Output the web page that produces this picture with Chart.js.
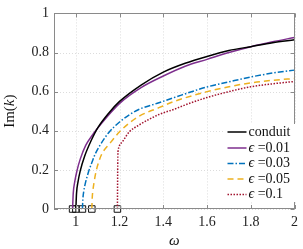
<!DOCTYPE html>
<html>
<head>
<meta charset="utf-8">
<script src="https://cdn.jsdelivr.net/npm/chart.js@4.4.1/dist/chart.umd.min.js"></script>
<style>
  html, body { margin: 0; padding: 0; background: #fff; }
</style>
</head>
<body>
<canvas id="chart" width="303" height="249"></canvas>
<script>
// values
var omegaConduit = [1.0, 1.003, 1.01, 1.02, 1.04, 1.07, 1.1, 1.15, 1.2, 1.3, 1.4, 1.5, 1.6, 1.7, 1.8, 1.9, 2.0];
var imConduit    = [0, 0.08, 0.14, 0.195, 0.27, 0.35, 0.415, 0.49, 0.55, 0.635, 0.70, 0.745, 0.78, 0.81, 0.83, 0.85, 0.865];

var omegaEps01 = [0.985, 0.988, 0.995, 1.005, 1.02, 1.045, 1.08, 1.115, 1.2, 1.3, 1.4, 1.5, 1.6, 1.7, 1.8, 1.9, 2.0];
var imEps01    = [0, 0.08, 0.14, 0.195, 0.255, 0.325, 0.385, 0.435, 0.54, 0.622, 0.68, 0.73, 0.765, 0.80, 0.83, 0.855, 0.877];

var omegaEps03 = [1.03, 1.032, 1.036, 1.042, 1.058, 1.074, 1.088, 1.11, 1.15, 1.2, 1.245, 1.29, 1.38, 1.45, 1.6, 1.7, 1.8, 1.9, 2.0];
var imEps03    = [0, 0.05, 0.09, 0.125, 0.19, 0.24, 0.28, 0.325, 0.39, 0.445, 0.482, 0.51, 0.543, 0.57, 0.624, 0.65, 0.675, 0.695, 0.71];

var omegaEps05 = [1.073, 1.075, 1.078, 1.083, 1.092, 1.103, 1.118, 1.155, 1.2, 1.245, 1.29, 1.38, 1.45, 1.6, 1.7, 1.8, 1.9, 2.0];
var imEps05    = [0, 0.06, 0.095, 0.135, 0.19, 0.235, 0.28, 0.335, 0.395, 0.44, 0.475, 0.518, 0.55, 0.60, 0.625, 0.645, 0.658, 0.667];

var omegaEps1 = [1.19, 1.192, 1.195, 1.215, 1.245, 1.29, 1.38, 1.45, 1.5, 1.6, 1.7, 1.8, 1.9, 2.0];
var imEps1    = [0, 0.27, 0.31, 0.347, 0.395, 0.43, 0.483, 0.51, 0.532, 0.57, 0.60, 0.625, 0.64, 0.652];

// cut-off frequencies marked with squares
var cutoffOmega = [0.985, 1.0, 1.03, 1.073, 1.19];
var cutoffIm    = [0, 0, 0, 0, 0];

var seriesLabels = ['conduit', 'ϵ =0.01', 'ϵ =0.03', 'ϵ =0.05', 'ϵ =0.1'];
var xTicks = [1, 1.2, 1.4, 1.6, 1.8, 2];
var yTicks = [0, 0.2, 0.4, 0.6, 0.8, 1];

var SERIF = "'Liberation Serif', 'DejaVu Serif', serif";
var AXIS_GREY = '#8a8a8a';

function points(xs, ys) {
    return xs.map(function (x, i) { return { x: x, y: ys[i] }; });
}

function curve(label, xs, ys, color, dash) {
    return {
        label: label,
        data: points(xs, ys),
        showLine: true,
        borderColor: color,
        backgroundColor: color,
        borderWidth: 1.5,
        borderDash: dash,
        pointRadius: 0,
        cubicInterpolationMode: 'monotone',
        clip: false
    };
}

// grid, box and inward ticks like the original axes
var axesFrame = {
    id: 'axesFrame',
    beforeDatasetsDraw: function (chart) {
        var ctx = chart.ctx, a = chart.chartArea;
        var xs = chart.scales.x, ys = chart.scales.y;
        ctx.save();
        ctx.strokeStyle = '#dcdcdc';
        ctx.lineWidth = 1;
        ctx.setLineDash([1, 2]);
        xTicks.forEach(function (v) {
            var px = Math.round(xs.getPixelForValue(v)) + 0.5;
            ctx.beginPath(); ctx.moveTo(px, a.top); ctx.lineTo(px, a.bottom); ctx.stroke();
        });
        yTicks.forEach(function (v) {
            var py = Math.round(ys.getPixelForValue(v)) + 0.5;
            ctx.beginPath(); ctx.moveTo(a.left, py); ctx.lineTo(a.right, py); ctx.stroke();
        });
        ctx.restore();
    },
    afterDatasetsDraw: function (chart) {
        var ctx = chart.ctx, a = chart.chartArea;
        var xs = chart.scales.x, ys = chart.scales.y;
        ctx.save();
        ctx.strokeStyle = AXIS_GREY;
        ctx.lineWidth = 1;
        ctx.strokeRect(Math.round(a.left) + 0.5, Math.round(a.top) + 0.5,
            Math.round(a.right - a.left) - 1, Math.round(a.bottom - a.top) - 1);
        var tl = 4;
        xTicks.forEach(function (v) {
            var px = Math.round(xs.getPixelForValue(v)) + 0.5;
            ctx.beginPath();
            ctx.moveTo(px, a.bottom); ctx.lineTo(px, a.bottom - tl);
            ctx.moveTo(px, a.top); ctx.lineTo(px, a.top + tl);
            ctx.stroke();
        });
        yTicks.forEach(function (v) {
            var py = Math.round(ys.getPixelForValue(v)) + 0.5;
            ctx.beginPath();
            ctx.moveTo(a.left, py); ctx.lineTo(a.left + tl, py);
            ctx.moveTo(a.right, py); ctx.lineTo(a.right - tl, py);
            ctx.stroke();
        });
        ctx.restore();
    },
    afterDraw: function (chart) {
        var ctx = chart.ctx, a = chart.chartArea;
        ctx.save();

        // legend box in the lower right
        var lx = 223, ly = 124, lw = 73, lh = 78;
        ctx.fillStyle = '#fff';
        ctx.fillRect(lx, ly, lw, lh);
        ctx.textBaseline = 'middle';
        ctx.textAlign = 'left';
        var rowY = [132, 148, 163.5, 179, 194.5];
        chart.data.datasets.slice(0, 5).forEach(function (ds, i) {
            var y = rowY[i];
            ctx.strokeStyle = ds.borderColor;
            ctx.lineWidth = ds.borderWidth;
            ctx.setLineDash(ds.borderDash || []);
            ctx.beginPath(); ctx.moveTo(227.5, y); ctx.lineTo(246.5, y); ctx.stroke();
            ctx.setLineDash([]);
            ctx.fillStyle = '#111';
            var label = ds.label, tx = 248.5;
            if (label.charAt(0) === 'ϵ') {
                ctx.font = 'italic 14px ' + SERIF;
                ctx.fillText('ϵ', tx, y);
                tx += ctx.measureText('ϵ').width;
                label = label.slice(1);
            }
            ctx.font = '14px ' + SERIF;
            ctx.fillText(label, tx, y);
        });

        // axis titles
        ctx.fillStyle = '#111';
        ctx.textAlign = 'center';
        ctx.textBaseline = 'middle';
        ctx.font = 'italic 15px ' + SERIF;
        ctx.fillText('ω', (a.left + a.right) / 2, 241);

        ctx.translate(10, (a.top + a.bottom) / 2);
        ctx.rotate(-Math.PI / 2);
        var p1 = 'Im(', p2 = 'k', p3 = ')';
        ctx.font = '15px ' + SERIF;
        var w1 = ctx.measureText(p1).width, w3 = ctx.measureText(p3).width;
        ctx.font = 'italic 15px ' + SERIF;
        var w2 = ctx.measureText(p2).width;
        var sx = -(w1 + w2 + w3) / 2;
        ctx.textAlign = 'left';
        ctx.font = '15px ' + SERIF;
        ctx.fillText(p1, sx, 0);
        ctx.font = 'italic 15px ' + SERIF;
        ctx.fillText(p2, sx + w1, 0);
        ctx.font = '15px ' + SERIF;
        ctx.fillText(p3, sx + w1 + w2, 0);
        ctx.restore();
    }
};

var canvas = document.getElementById('chart');
var chart = new Chart(canvas.getContext('2d'), {
    type: 'scatter',
    data: {
        datasets: [
            curve(seriesLabels[0], omegaConduit, imConduit, '#000000', []),
            curve(seriesLabels[1], omegaEps01, imEps01, '#7e2f8e', []),
            curve(seriesLabels[2], omegaEps03, imEps03, '#0072bd', [6, 2, 1.5, 2]),
            curve(seriesLabels[3], omegaEps05, imEps05, '#edb120', [6, 4]),
            curve(seriesLabels[4], omegaEps1, imEps1, '#a2142f', [1.5, 1.5]),
            {
                label: 'cutoff',
                data: points(cutoffOmega, cutoffIm),
                showLine: false,
                pointStyle: 'rect',
                pointRadius: 4.6,
                borderColor: '#111',
                borderWidth: 1,
                backgroundColor: 'rgba(255,255,255,0)',
                clip: false
            }
        ]
    },
    options: {
        responsive: false,
        animation: false,
        layout: { padding: { top: 5, right: 5, left: 0, bottom: 0 } },
        plugins: {
            legend: { display: false },
            tooltip: { enabled: false }
        },
        scales: {
            x: {
                type: 'linear',
                min: 0.9,
                max: 2,
                afterBuildTicks: function (s) { s.ticks = xTicks.map(function (v) { return { value: v }; }); },
                afterFit: function (s) { s.height = 40; },
                grid: { display: false, drawTicks: false },
                border: { display: false },
                ticks: {
                    color: '#222',
                    padding: 5,
                    maxRotation: 0,
                    font: { family: SERIF, size: 14 },
                    callback: function (v) { return String(v); }
                }
            },
            y: {
                type: 'linear',
                min: 0,
                max: 1,
                afterBuildTicks: function (s) { s.ticks = yTicks.map(function (v) { return { value: v }; }); },
                afterFit: function (s) { s.width = 54; },
                grid: { display: false, drawTicks: false },
                border: { display: false },
                ticks: {
                    color: '#222',
                    padding: 5,
                    font: { family: SERIF, size: 14 },
                    callback: function (v) { return String(v); }
                }
            }
        }
    },
    plugins: [axesFrame]
});
</script>
</body>
</html>
